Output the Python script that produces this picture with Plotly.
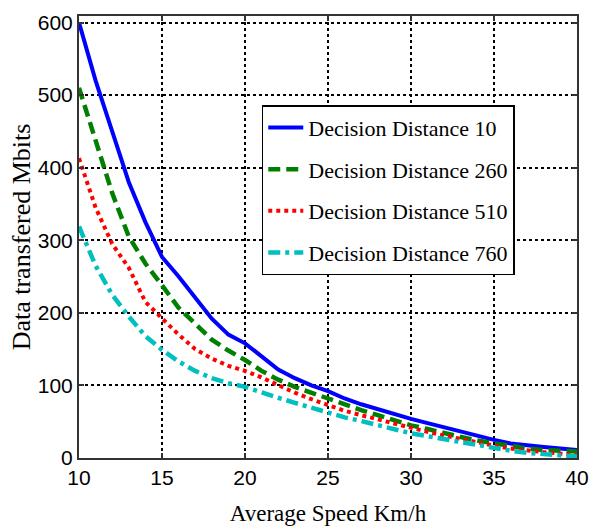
import plotly.graph_objects as go

speed = list(range(10, 41))

dd10 = [600, 520, 450, 380, 325, 277, 250, 220, 192, 170, 158, 140, 122, 110, 100, 92,
        82, 74, 67, 60, 54, 48, 42, 36, 30, 25, 20, 17, 15, 13, 11]
dd260 = [510, 440, 365, 305, 268, 238, 207, 185, 163, 148, 135, 120, 108, 98, 90, 82,
         73, 66, 59, 52, 45, 40, 34, 29, 24, 20, 16, 13, 11, 10, 9]
dd510 = [413, 345, 295, 262, 215, 192, 170, 150, 137, 127, 120, 111, 100, 90, 81, 73,
         65, 59, 53, 47, 41, 36, 31, 26, 21, 17, 13, 10, 8, 6, 4]
dd760 = [319, 265, 225, 195, 168, 149, 133, 120, 110, 103, 98, 90, 83, 76, 69, 62,
         56, 51, 45, 40, 34, 30, 26, 21, 17, 13, 10, 7, 5, 3, 2]

names = ["Decision Distance 10", "Decision Distance 260",
         "Decision Distance 510", "Decision Distance 760"]
series = [dd10, dd260, dd510, dd760]
colors = ["#0000FF", "#007F00", "#FF0000", "#00BFBF"]
dashes = ["solid", "12px,6px", "4px,4px", "12px,5px,4px,5px"]
widths = [4, 4.5, 4, 4.5]

x_ticks = [10, 15, 20, 25, 30, 35, 40]
y_ticks = [0, 100, 200, 300, 400, 500, 600]

fig = go.Figure()
for i, (n, s) in enumerate(zip(names, series)):
    fig.add_trace(go.Scatter(
        x=speed, y=s, mode="lines", name=n, legendgroup=f"g{i}",
        line=dict(color=colors[i], width=widths[i], dash=dashes[i]),
    ))

axis_common = dict(
    showline=True, linecolor="#333333", linewidth=2, mirror="ticks",
    ticks="inside", ticklen=5, tickwidth=1.5, tickcolor="#333333",
    showgrid=True, gridcolor="black", gridwidth=1.5, griddash="dot",
    zeroline=False, ticklabeloverflow="allow",
    tickfont=dict(family="Liberation Sans, Arial", size=21, color="black"),
)

fig.update_xaxes(
    range=[10, 40], tickvals=x_ticks,
    title=dict(text="Average Speed Km/h", standoff=17,
               font=dict(family="Liberation Serif, Times New Roman", size=23, color="black")),
    **axis_common,
)
fig.update_yaxes(
    range=[0, 609], tickvals=y_ticks,
    title=dict(text="Data transfered Mbits", standoff=0,
               font=dict(family="Liberation Serif, Times New Roman", size=26, color="black")),
    **axis_common,
)

fig.update_layout(
    width=590, height=527,
    margin=dict(l=79, r=13, t=16, b=69, autoexpand=False),
    plot_bgcolor="white", paper_bgcolor="white",
    legend=dict(
        x=0.367, y=0.798, xanchor="left", yanchor="top",
        bgcolor="white", bordercolor="black", borderwidth=1.5,
        font=dict(family="Liberation Serif, Times New Roman", size=22, color="black"),
        tracegroupgap=10, traceorder="grouped", itemwidth=35,
    ),
    showlegend=True,
)

fig.write_html(
    "out.html",
    config={"displayModeBar": False},
    post_script="document.body.style.margin='0';document.body.style.overflow='hidden';",
)
